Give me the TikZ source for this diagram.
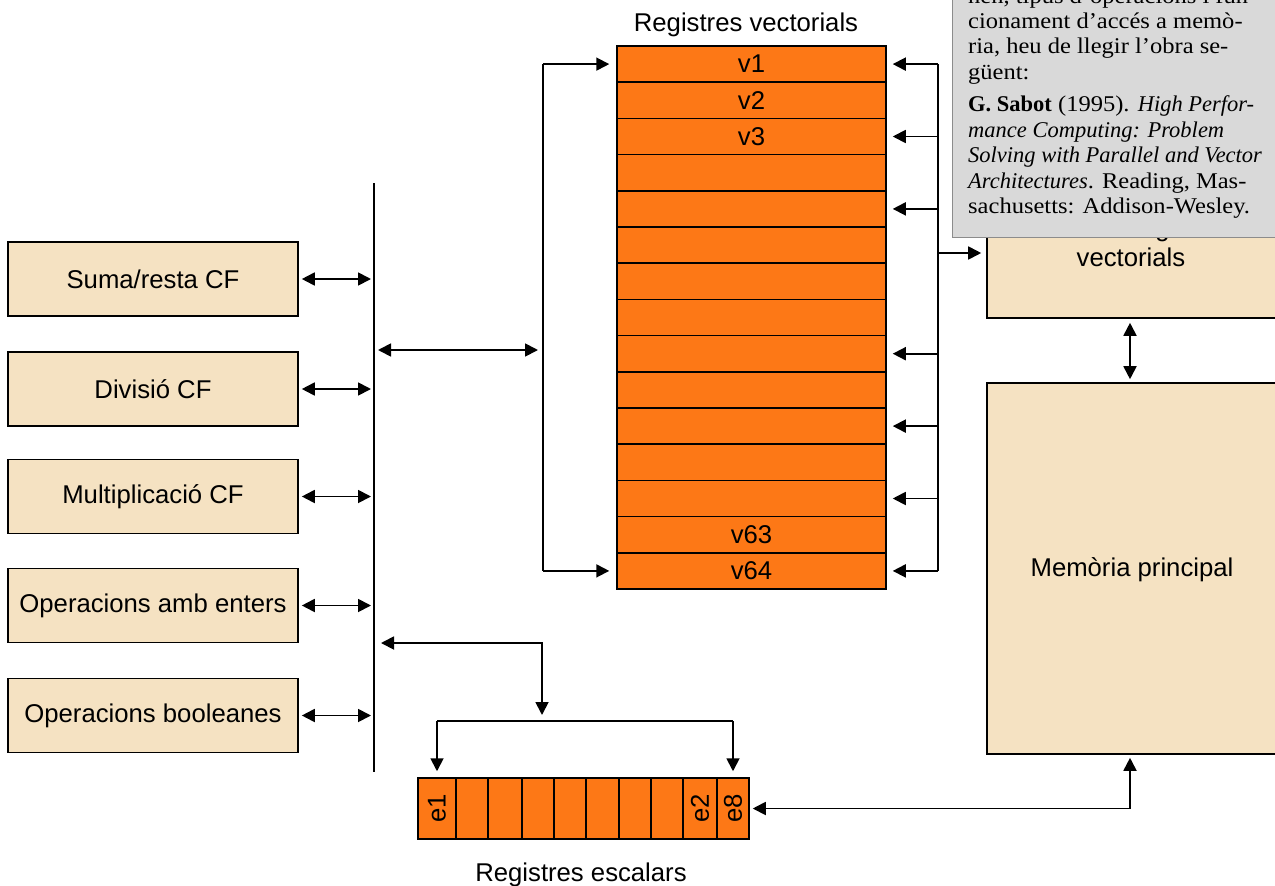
\documentclass[tikz,border=0pt]{standalone}
\usepackage{fontspec}
\setmainfont{Liberation Serif}
\newfontfamily\arialfont{Liberation Sans}
\newfontfamily\noteromanfont[FakeStretch=1.09]{Liberation Serif}
\newfontfamily\notebasefont{Liberation Serif}
\usetikzlibrary{arrows.meta}

\definecolor{regorange}{RGB}{253,120,22}
\definecolor{unitbeige}{RGB}{245,226,194}
\definecolor{notegray}{RGB}{217,217,217}
\definecolor{noteedge}{RGB}{140,140,140}

\newcommand{\noteit}[1]{{\notebasefont\itshape #1}}
\newcommand{\notebf}[1]{{\notebasefont\bfseries #1}}

\begin{document}
\begin{tikzpicture}[x=1pt,y=-1pt,
  >={Triangle[length=13pt,width=13pt]},
  link/.style={line width=1.8pt, draw=black},
  sans/.style={font=\arialfont\fontsize{25.7}{30}\selectfont},
  unitbox/.style={sans, draw=black, line width=1.6pt, fill=unitbeige,
    minimum width=290pt, minimum height=74pt, inner sep=0pt},
  vreg/.style={sans, draw=black, line width=1.5pt, fill=regorange,
    minimum width=269pt, minimum height=36.2pt, inner sep=0pt},
  sreg/.style={draw=black, line width=1.5pt, fill=regorange,
    minimum height=61pt, inner sep=0pt},
  notetext/.style={anchor=base west, inner sep=0pt,
    font=\noteromanfont\fontsize{22.5}{25}\selectfont},
]
\clip (0,0) rectangle (1275,886);

% ---------- functional units ----------
\node[unitbox] (u1) at (153,279) {Suma/resta CF};
\node[unitbox] (u2) at (153,389) {Divisió CF};
\node[unitbox] (u3) at (153,496.5) {Multiplicació CF};
\node[unitbox] (u4) at (153,605.5) {Operacions amb enters};
\node[unitbox] (u5) at (153,715.5) {Operacions booleanes};

% ---------- bus ----------
\coordinate (bustop) at (374,183);
\coordinate (busbot) at (374,772);
\draw[link] (bustop) -- (busbot);
\foreach \k in {1,...,5}
  \draw[link,<->,shorten <=3pt,shorten >=3pt] (u\k.east) -- (u\k.east -| bustop);

% ---------- vector registers ----------
\node[sans, anchor=base] (vtitle) at (746,31) {Registres vectorials};
\foreach \i/\t in {1/v1,2/v2,3/v3,4/,5/,6/,7/,8/,9/,10/,11/,12/,13/,14/v63,15/v64}
  \node[vreg] (r\i) at (751.5,{46+36.2*(\i-0.5)}) {\t};

% left bracket feeding v1 and v64
\coordinate (lbr) at (543,350);
\draw[link] (r1.west -| lbr) -- (r15.west -| lbr);
\draw[link,->,shorten >=7pt] (r1.west -| lbr) -- (r1.west);
\draw[link,->,shorten >=7pt] (r15.west -| lbr) -- (r15.west);
\draw[link,<->,shorten <=4pt,shorten >=5pt] (lbr -| bustop) -- (lbr);

% right bracket from the register bank
\coordinate (rbr) at (938,253);
\draw[link] (r1.east -| rbr) -- (r15.east -| rbr);
\foreach \i in {1,3,5,9,11,13,15}
  \draw[link,->,shorten >=6pt] (r\i.east -| rbr) -- (r\i.east);

% ---------- vector register bank and main memory ----------
\node[draw=black, line width=1.6pt, fill=unitbeige, minimum width=310pt,
  minimum height=170pt, inner sep=0pt] (banc) at (1142,233) {};
\node[sans, align=center] (banclbl) at (1131,242) {Banc de registres\\vectorials};
\draw[link,->,shorten >=5pt] (rbr) -- (rbr -| banc.west);

\node[draw=black, line width=1.6pt, fill=unitbeige, minimum width=310pt,
  minimum height=371pt, inner sep=0pt] (mem) at (1142,568.5) {};
\node[sans] (memlbl) at (1132,570) {Memòria principal};
\coordinate (memx) at (1130,568);
\draw[link,<->,shorten <=4pt,shorten >=3pt] (banc.south -| memx) -- (mem.north -| memx);

% ---------- scalar registers ----------
\foreach \a/\b [count=\k] in {418/456,456/488,488/522,522/554,554/586,586/619,619/651,651/683,683/717,717/749}
  \node[sreg, minimum width={(\b-\a)*1pt}] (s\k) at ({(\a+\b)/2},808.5) {};
\foreach \k/\t in {1/e1,9/e2,10/e8}
  \node[sans, rotate=90] (e\k) at (s\k) {\t};
\node[sans, anchor=base] (stitle) at (581,881) {Registres escalars};

\coordinate (sc) at (542,643);
\coordinate (sctop) at (542,721);
\draw[link,<->,shorten <=7pt,shorten >=6pt] (sc -| bustop) -- (sc) -- (sctop);
\draw[link] (s1.north |- sctop) -- (s10.north |- sctop);
\draw[link,->,shorten >=6pt] (s1.north |- sctop) -- (s1.north);
\draw[link,->,shorten >=6pt] (s10.north |- sctop) -- (s10.north);

\draw[link,<->,shorten <=3pt,shorten >=3pt] (mem.south -| memx) |- (s10.east);

% ---------- reading note ----------
\node[draw=noteedge, line width=1pt, fill=notegray, minimum width=340pt,
  minimum height=260pt, inner sep=0pt, anchor=south west] (note) at (952,238) {};
\node[notetext] (n1) at (968,3.5) {nen, tipus d’operacions i fun-};
\node[notetext] (n2) at (968,28.7) {cionament d’accés a memò-};
\node[notetext] (n3) at (968,53.9) {ria, heu de llegir l’obra se-};
\node[notetext] (n4) at (968,79.1) {güent:};
\node[notetext] (n5) at (968,111.5) {\notebf{G. Sabot} (1995). \noteit{High Perfor-}};
\node[notetext] (n6) at (968,137) {\noteit{mance Computing: Problem}};
\node[notetext] (n7) at (968,162.5) {\noteit{Solving with Parallel and Vector}};
\node[notetext] (n8) at (968,188) {\noteit{Architectures}. Reading, Mas-};
\node[notetext] (n9) at (968,213.5) {sachusetts: Addison-Wesley.};
\end{tikzpicture}
\end{document}
